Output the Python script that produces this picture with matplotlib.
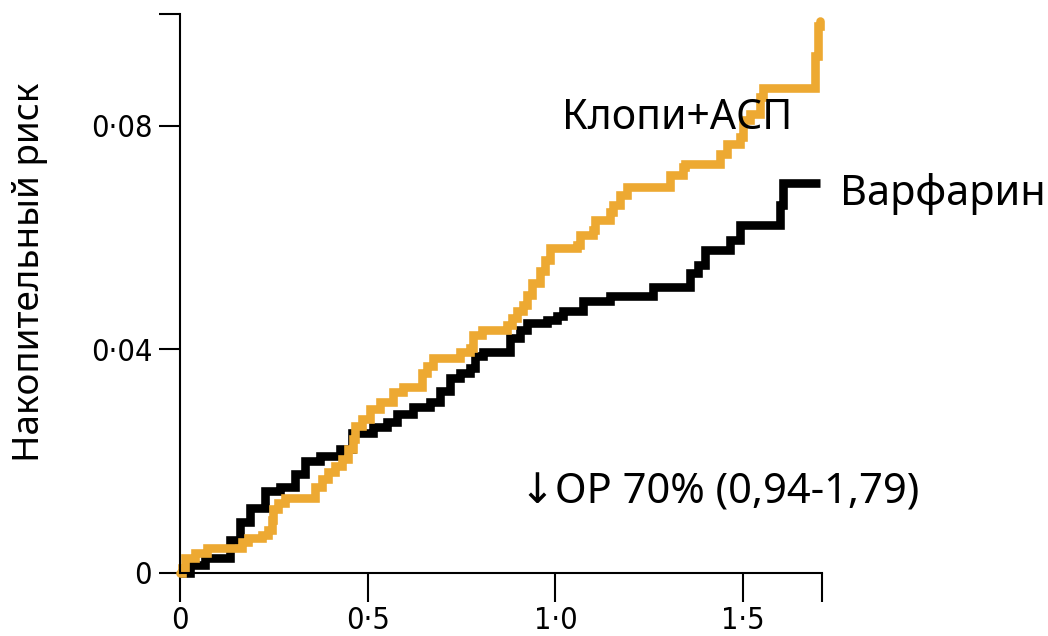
import matplotlib
matplotlib.use("Agg")
import matplotlib.pyplot as plt
from matplotlib import font_manager

# cumulative risk curves (step points)
warf_t = [0, 0.027, 0.067, 0.133, 0.160, 0.186, 0.226, 0.266, 0.306, 0.333,
          0.373, 0.426, 0.458, 0.514, 0.551, 0.578, 0.620, 0.666, 0.692, 0.719,
          0.746, 0.772, 0.786, 0.807, 0.879, 0.905, 0.924, 0.977, 1.004, 1.020,
          1.073, 1.145, 1.260, 1.358, 1.380, 1.398, 1.465, 1.491, 1.598, 1.606,
          1.704]
warf_r = [0, 0.0014, 0.0027, 0.0059, 0.0092, 0.0117, 0.0146, 0.0153, 0.0177, 0.0200,
          0.0209, 0.0222, 0.0250, 0.0261, 0.0270, 0.0285, 0.0297, 0.0306, 0.0326, 0.0348,
          0.0357, 0.0366, 0.0389, 0.0396, 0.0420, 0.0434, 0.0447, 0.0452, 0.0459, 0.0468,
          0.0486, 0.0495, 0.0512, 0.0537, 0.0551, 0.0577, 0.0595, 0.0622, 0.0659, 0.0697,
          0.0697]

clopi_t = [0, 0.005, 0.013, 0.040, 0.072, 0.165, 0.181, 0.218, 0.234, 0.245,
           0.248, 0.261, 0.280, 0.360, 0.378, 0.394, 0.413, 0.431, 0.447, 0.461,
           0.466, 0.485, 0.506, 0.533, 0.567, 0.594, 0.644, 0.658, 0.674, 0.746,
           0.772, 0.780, 0.804, 0.871, 0.884, 0.897, 0.913, 0.924, 0.937, 0.959,
           0.972, 0.985, 1.057, 1.065, 1.100, 1.105, 1.145, 1.153, 1.172, 1.190,
           1.305, 1.340, 1.345, 1.438, 1.457, 1.491, 1.499, 1.518, 1.545, 1.553,
           1.691, 1.699, 1.704]
clopi_r = [0, 0.0009, 0.0027, 0.0036, 0.0045, 0.0056, 0.0063, 0.0068, 0.0077, 0.0095,
           0.0114, 0.0126, 0.0135, 0.0153, 0.0168, 0.0180, 0.0191, 0.0204, 0.0222, 0.0240,
           0.0263, 0.0276, 0.0294, 0.0306, 0.0324, 0.0333, 0.0357, 0.0371, 0.0384, 0.0396,
           0.0402, 0.0425, 0.0434, 0.0443, 0.0456, 0.0468, 0.0479, 0.0497, 0.0519, 0.0541,
           0.0560, 0.0582, 0.0587, 0.0604, 0.0613, 0.0632, 0.0645, 0.0658, 0.0676, 0.0690,
           0.0712, 0.0726, 0.0732, 0.0750, 0.0768, 0.0780, 0.0811, 0.0822, 0.0852, 0.0867,
           0.0924, 0.0978, 0.0987]

x_ticks = [0, 0.5, 1.0, 1.5, 1.71]
x_labels = ["0", "0·5", "1·0", "1·5", ""]
y_ticks = [0, 0.04, 0.08, 0.1]
y_labels = ["0", "0·04", "0·08", ""]

label_clopi = "Клопи+АСП"
label_warf = "Варфарин"
note = "↓ОР 70% (0,94-1,79)"
y_title = "Накопительный риск"

ORANGE = "#EDA932"
text_font = ["Noto Sans", "DejaVu Sans"]

# narrow face for the tick numbers, if there is one
names = set(f.name for f in font_manager.fontManager.ttflist)
tick_font = [n for n in ["Liberation Sans Narrow", "Arial Narrow"] if n in names]
tick_font += ["DejaVu Sans"]

fig = plt.figure(figsize=(10.48, 6.36), dpi=100)
ax = fig.add_axes([180/1048, 63/636, 642/1048, 559/636])

ax.plot(warf_t, warf_r, drawstyle="steps-post", color="black", linewidth=6.2,
        solid_joinstyle="miter", solid_capstyle="butt", clip_on=False)
ax.plot(clopi_t, clopi_r, drawstyle="steps-post", color=ORANGE, linewidth=6.2,
        solid_joinstyle="miter", solid_capstyle="round", clip_on=False)

ax.set_xlim(0, 1.71)
ax.set_ylim(0, 0.1)
ax.set_xticks(x_ticks)
ax.set_xticklabels(x_labels, family=tick_font, fontstretch="condensed", fontsize=22)
ax.set_yticks(y_ticks)
ax.set_yticklabels(y_labels, family=tick_font, fontstretch="condensed", fontsize=22)
ax.tick_params(axis="x", direction="out", length=21, width=1.5, pad=3)
ax.tick_params(axis="y", direction="out", length=15, width=1.5, pad=5)

for s in ["top", "right"]:
    ax.spines[s].set_visible(False)
for s in ["left", "bottom"]:
    ax.spines[s].set_linewidth(1.5)

ax.text(1.017, 0.0794, label_clopi, family=text_font, fontsize=29.5,
        ha="left", va="baseline", clip_on=False)
ax.text(1.758, 0.0658, label_warf, family=text_font, fontsize=30,
        ha="left", va="baseline", clip_on=False)
ax.text(0.905, 0.0125, note, family=text_font, fontsize=30,
        ha="left", va="baseline", clip_on=False)

fig.text(30/1048, 0.572, y_title, family=text_font, fontsize=26.5,
         rotation=90, ha="center", va="center")

fig.savefig("out.png", dpi=100)
